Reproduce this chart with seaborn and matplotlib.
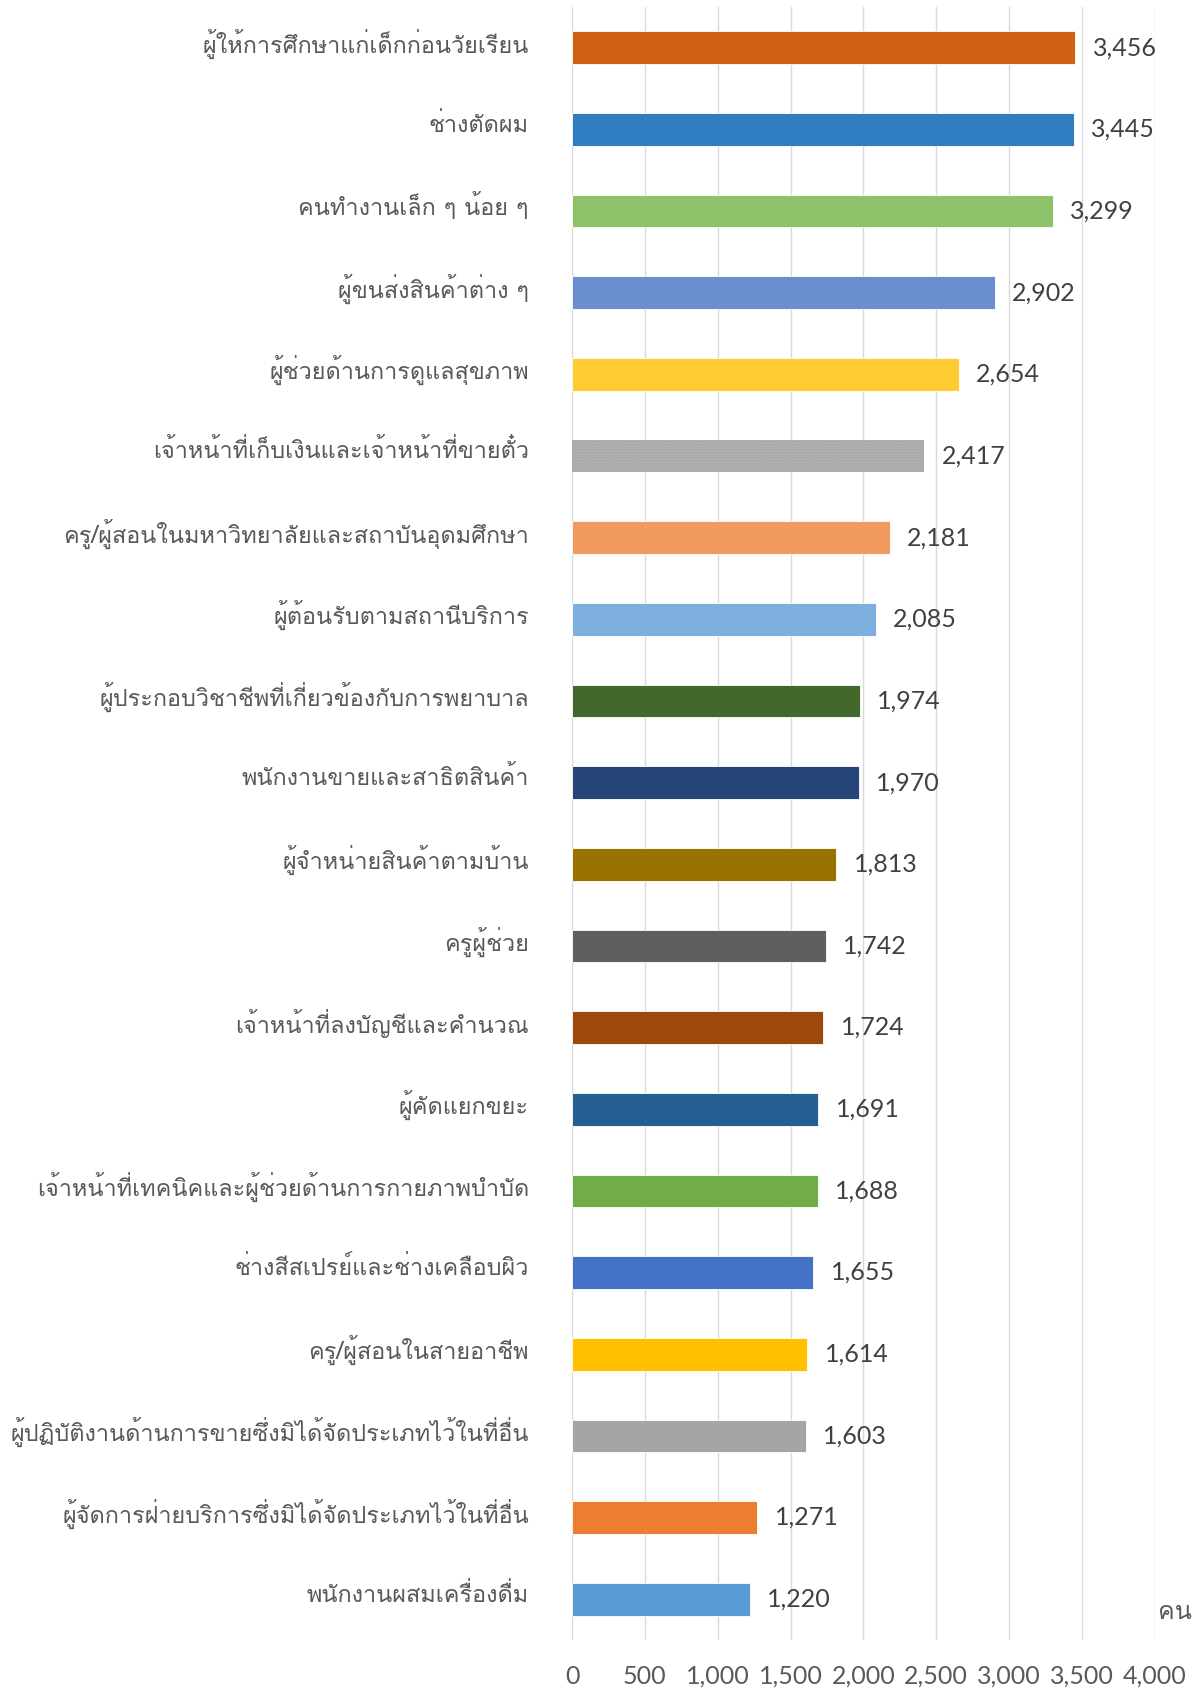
import numpy as np
import pandas as pd
import matplotlib
matplotlib.use("Agg")
import matplotlib.pyplot as plt
from matplotlib.transforms import ScaledTranslation
import seaborn as sns

occupations = [
    "ผู้ให้การศึกษาแก่เด็กก่อนวัยเรียน",
    "ช่างตัดผม",
    "คนทำงานเล็ก ๆ น้อย ๆ",
    "ผู้ขนส่งสินค้าต่าง ๆ",
    "ผู้ช่วยด้านการดูแลสุขภาพ",
    "เจ้าหน้าที่เก็บเงินและเจ้าหน้าที่ขายตั๋ว",
    "ครู/ผู้สอนในมหาวิทยาลัยและสถาบันอุดมศึกษา",
    "ผู้ต้อนรับตามสถานีบริการ",
    "ผู้ประกอบวิชาชีพที่เกี่ยวข้องกับการพยาบาล",
    "พนักงานขายและสาธิตสินค้า",
    "ผู้จำหน่ายสินค้าตามบ้าน",
    "ครูผู้ช่วย",
    "เจ้าหน้าที่ลงบัญชีและคำนวณ",
    "ผู้คัดแยกขยะ",
    "เจ้าหน้าที่เทคนิคและผู้ช่วยด้านการกายภาพบำบัด",
    "ช่างสีสเปรย์และช่างเคลือบผิว",
    "ครู/ผู้สอนในสายอาชีพ",
    "ผู้ปฏิบัติงานด้านการขายซึ่งมิได้จัดประเภทไว้ในที่อื่น",
    "ผู้จัดการฝ่ายบริการซึ่งมิได้จัดประเภทไว้ในที่อื่น",
    "พนักงานผสมเครื่องดื่ม",
]
workers = [3456, 3445, 3299, 2902, 2654, 2417, 2181, 2085, 1974, 1970,
           1813, 1742, 1724, 1691, 1688, 1655, 1614, 1603, 1271, 1220]
bar_colors = ["#D06014", "#317DC2", "#8DC26A", "#6A8ED0", "#FFCB33",
              "#B3B3B3", "#F19B60", "#7EB0DF", "#43682B", "#264478",
              "#997300", "#5F5F5F", "#9E480E", "#255E91", "#70AD47",
              "#4472C4", "#FFC000", "#A5A5A5", "#ED7D31", "#5B9BD5"]
x_ticks = [0, 500, 1000, 1500, 2000, 2500, 3000, 3500, 4000]
unit_label = "คน"

sns.set_theme(style="white")
thai_family = ["Loma", "Noto Sans Thai", "DejaVu Sans"]
num_family = ["Lato", "DejaVu Sans"]
plt.rcParams["font.family"] = thai_family

df = pd.DataFrame({"occupation": occupations, "workers": workers})

fig = plt.figure(figsize=(12.02, 16.92), dpi=100)
ax = fig.add_axes([0.4759, 0.0307, 0.9606 - 0.4759, 0.996 - 0.0307])

sns.barplot(data=df, x="workers", y="occupation", hue="occupation",
            palette=bar_colors, orient="h", width=0.4, legend=False,
            saturation=1, ax=ax, zorder=3)

for i, patch in enumerate(ax.patches):
    patch.set_edgecolor("#FFFFFF")
    patch.set_linewidth(0.6)
# the cashier/ticket bar carries a fine dotted texture
textured = ax.patches[5]
textured.set_hatch("......")
textured.set_edgecolor("#A4A4A4")
textured.set_linewidth(0.0)

ax.set_xlim(0, 4000)
ax.set_ylim(len(occupations) - 0.5, -0.5)
ax.set_xticks(x_ticks)
ax.set_xticklabels([f"{t:,}" for t in x_ticks], fontsize=18, color="#595959",
                   family=num_family)
ax.tick_params(axis="x", length=0, pad=18)
ax.tick_params(axis="y", length=0, pad=31, labelsize=16.9, labelcolor="#595959")
lift = ScaledTranslation(0, 7 / 100, fig.dpi_scale_trans)
for lbl in ax.get_yticklabels():
    lbl.set_transform(lbl.get_transform() + lift)
ax.set_xlabel("")
ax.set_ylabel("")
ax.grid(axis="x", color="#D9D9D9", linewidth=1, zorder=0)
for s in ax.spines.values():
    s.set_visible(False)

for i, v in enumerate(workers):
    ax.text(v + 120, i, f"{v:,}", va="center", ha="left", fontsize=18,
            color="#404040", family=num_family)

ax.text(1.005, 0.0166, unit_label, transform=ax.transAxes,
        fontsize=18, color="#595959", ha="left", va="center")

fig.savefig("out.png", dpi=100)
